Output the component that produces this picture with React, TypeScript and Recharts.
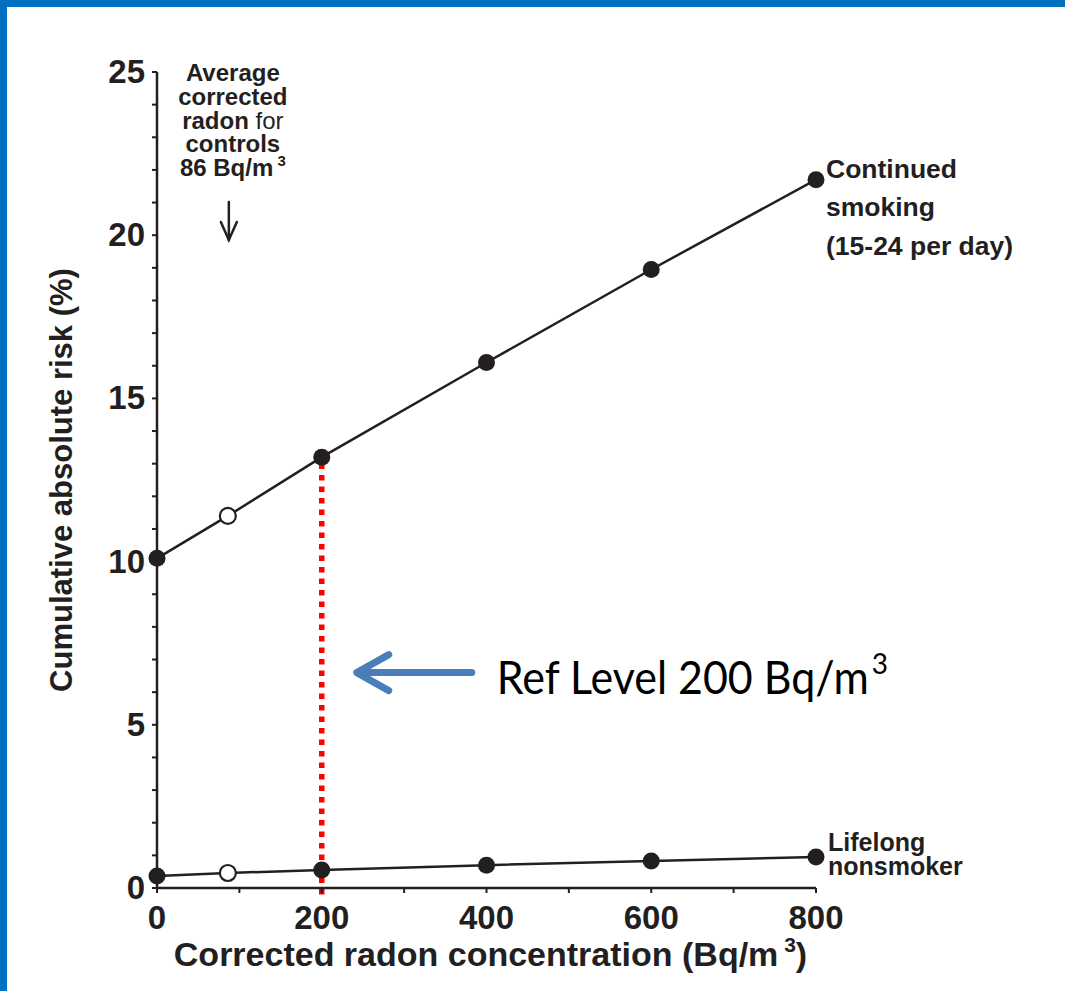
import React from 'react';
import { LineChart, Line, XAxis, YAxis, ReferenceLine, ReferenceDot, LabelList } from 'recharts';

// ---- data ----
const radon = [0, 86, 200, 400, 600, 800];
const smokerRisk = [10.1, 11.4, 13.2, 16.1, 18.95, 21.7];
const nonsmokerRisk = [0.37, 0.46, 0.55, 0.7, 0.83, 0.95];
const openMarkerRadon = 86;
const xTicks = [0, 100, 200, 300, 400, 500, 600, 700, 800];
const xLabelEvery = 200;
const yTicks = [0, 1, 2, 3, 4, 5, 6, 7, 8, 9, 10, 11, 12, 13, 14, 15, 16, 17, 18, 19, 20, 21, 22, 23, 24, 25];
const yLabelEvery = 5;
const refLevel = 200;
const refArrowRisk = 6.6;
const controlsRadon = 86;

const data = radon.map((r, i) => ({ radon: r, smoker: smokerRisk[i], nonsmoker: nonsmokerRisk[i] }));
const refRisk = smokerRisk[radon.indexOf(refLevel)];

const INK = '#231f20';
const FONT = '"Liberation Sans", Arial, Helvetica, sans-serif';

const Marker = (props: any) => {
  const { cx, cy, payload, index } = props;
  if (cx == null || cy == null) return <g key={`m-${index}`} />;
  if (payload && payload.radon === openMarkerRadon) {
    return <circle key={`m-${index}`} cx={cx} cy={cy} r={8} fill="#fff" stroke={INK} strokeWidth={2.2} />;
  }
  return <circle key={`m-${index}`} cx={cx} cy={cy} r={8.5} fill={INK} />;
};

const XTick = (props: any) => {
  const { x, y, payload } = props;
  if (payload.value % xLabelEvery !== 0) return <g />;
  return (
    <text x={x} y={y + 34} textAnchor="middle" fontFamily={FONT} fontWeight="bold" fontSize={33} fill={INK}>
      {payload.value}
    </text>
  );
};

const YTick = (props: any) => {
  const { x, y, payload } = props;
  if (payload.value % yLabelEvery !== 0) return <g />;
  return (
    <text x={x - 5} y={y + 11} textAnchor="end" fontFamily={FONT} fontWeight="bold" fontSize={33} fill={INK}>
      {payload.value}
    </text>
  );
};

const YTitle = (props: any) => {
  const vb = props.viewBox || {};
  const cy = vb.y + vb.height / 2;
  const cx = 72;
  return (
    <text x={cx} y={cy} transform={`rotate(-90 ${cx} ${cy})`} textAnchor="middle" fontFamily={FONT} fontWeight="bold" fontSize={31} fill={INK}>
      Cumulative absolute risk (%)
    </text>
  );
};

const XTitle = (props: any) => {
  const vb = props.viewBox || {};
  const cx = vb.x + vb.width / 2;
  return (
    <text x={cx + 4} y={vb.y + 78} textAnchor="middle" fontFamily={FONT} fontWeight="bold" fontSize={34} fill={INK}>
      Corrected radon concentration (Bq/m
      <tspan fontSize={21} dy={-14}> 3</tspan>
      <tspan dy={14}>)</tspan>
    </text>
  );
};

const SmokerLabel = (props: any) => {
  const { x, y, index } = props;
  if (index !== radon.length - 1) return null;
  const tx = x + 10;
  return (
    <text fontFamily={FONT} fontWeight="bold" fontSize={26.5} fill={INK}>
      <tspan x={tx} y={y - 2}>Continued</tspan>
      <tspan x={tx} y={y + 36}>smoking</tspan>
      <tspan x={tx} y={y + 75}>(15-24 per day)</tspan>
    </text>
  );
};

const NonsmokerLabel = (props: any) => {
  const { x, y, index } = props;
  if (index !== radon.length - 1) return null;
  const tx = x + 12;
  return (
    <text fontFamily={FONT} fontWeight="bold" fontSize={25} fill={INK}>
      <tspan x={tx} y={y - 6}>Lifelong</tspan>
      <tspan x={tx} y={y + 18}>nonsmoker</tspan>
    </text>
  );
};

const ControlsNote = (props: any) => {
  const { cx, cy } = props;
  const tx = cx + 5;
  return (
    <g>
      <text textAnchor="middle" fontFamily={FONT} fontWeight="bold" fontSize={24} fill={INK}>
        <tspan x={tx} y={cy + 9}>Average</tspan>
        <tspan x={tx} y={cy + 33}>corrected</tspan>
        <tspan x={tx} y={cy + 57}>radon <tspan fontWeight="normal">for</tspan></tspan>
        <tspan x={tx} y={cy + 80}>controls</tspan>
        <tspan x={tx} y={cy + 104}>86 Bq/m<tspan fontSize={15} dy={-10}> 3</tspan></tspan>
      </text>
      <g stroke={INK} strokeWidth={2.5} fill="none" strokeLinecap="round">
        <line x1={cx + 1} y1={cy + 130} x2={cx + 1} y2={cy + 168} />
        <polyline points={`${cx - 7},${cy + 150} ${cx + 1},${cy + 168} ${cx + 9},${cy + 150}`} />
      </g>
    </g>
  );
};

const RefNote = (props: any) => {
  const { cx, cy } = props;
  const tip = cx + 35;
  return (
    <g>
      <g stroke="#4a7ebb" strokeWidth={7} fill="none" strokeLinecap="round" strokeLinejoin="round">
        <line x1={tip + 4} y1={cy} x2={cx + 150} y2={cy} />
        <polyline points={`${tip + 32},${cy - 18} ${tip},${cy} ${tip + 32},${cy + 18}`} />
      </g>
      <text x={cx + 175} y={cy + 21} fontFamily='Lato, "Open Sans", sans-serif' fontSize={46} fill="#000">
        <tspan textLength={372} lengthAdjust="spacingAndGlyphs">Ref Level 200 Bq/m</tspan>
        <tspan fontSize={28} dx={3} dy={-20}>3</tspan>
      </text>
    </g>
  );
};

export default function App() {
  return (
    <div style={{ position: 'absolute', left: 0, top: 0, width: 1065, height: 991, background: '#fff', overflow: 'hidden' }}>
      <div style={{ position: 'absolute', left: 0, top: 0, width: 1065, height: 7, background: '#0070c0' }} />
      <div style={{ position: 'absolute', left: 0, top: 0, width: 7, height: 991, background: '#0070c0' }} />
      <div style={{ position: 'absolute', left: 0, top: 0 }}>
        <LineChart width={1065} height={991} data={data} margin={{ top: 72, right: 249, bottom: 73, left: 97 }}>
          <XAxis
            type="number"
            dataKey="radon"
            domain={[0, 800]}
            ticks={xTicks}
            interval={0}
            tick={<XTick />}
            tickSize={5}
            tickLine={{ stroke: INK, strokeWidth: 2 }}
            axisLine={{ stroke: INK, strokeWidth: 2.5 }}
            height={30}
            label={<XTitle />}
          />
          <YAxis
            type="number"
            domain={[0, 25]}
            ticks={yTicks}
            interval={0}
            tick={<YTick />}
            tickSize={5}
            tickLine={{ stroke: INK, strokeWidth: 2 }}
            axisLine={{ stroke: INK, strokeWidth: 2.5 }}
            width={60}
            label={<YTitle />}
          />
          <ReferenceLine
            segment={[{ x: refLevel, y: -0.2 }, { x: refLevel, y: refRisk }]}
            stroke="#ff0000"
            strokeWidth={5.5}
            strokeDasharray="5.5 6"
            ifOverflow="visible"
          />
          <Line
            dataKey="nonsmoker"
            stroke={INK}
            strokeWidth={2.5}
            dot={Marker}
            activeDot={false}
            isAnimationActive={false}
          >
            <LabelList dataKey="nonsmoker" content={<NonsmokerLabel />} />
          </Line>
          <Line
            dataKey="smoker"
            stroke={INK}
            strokeWidth={2.5}
            dot={Marker}
            activeDot={false}
            isAnimationActive={false}
          >
            <LabelList dataKey="smoker" content={<SmokerLabel />} />
          </Line>
          <ReferenceDot x={controlsRadon} y={25} r={0} ifOverflow="visible" shape={<ControlsNote />} />
          <ReferenceDot x={refLevel} y={refArrowRisk} r={0} ifOverflow="visible" shape={<RefNote />} />
        </LineChart>
      </div>
    </div>
  );
}
